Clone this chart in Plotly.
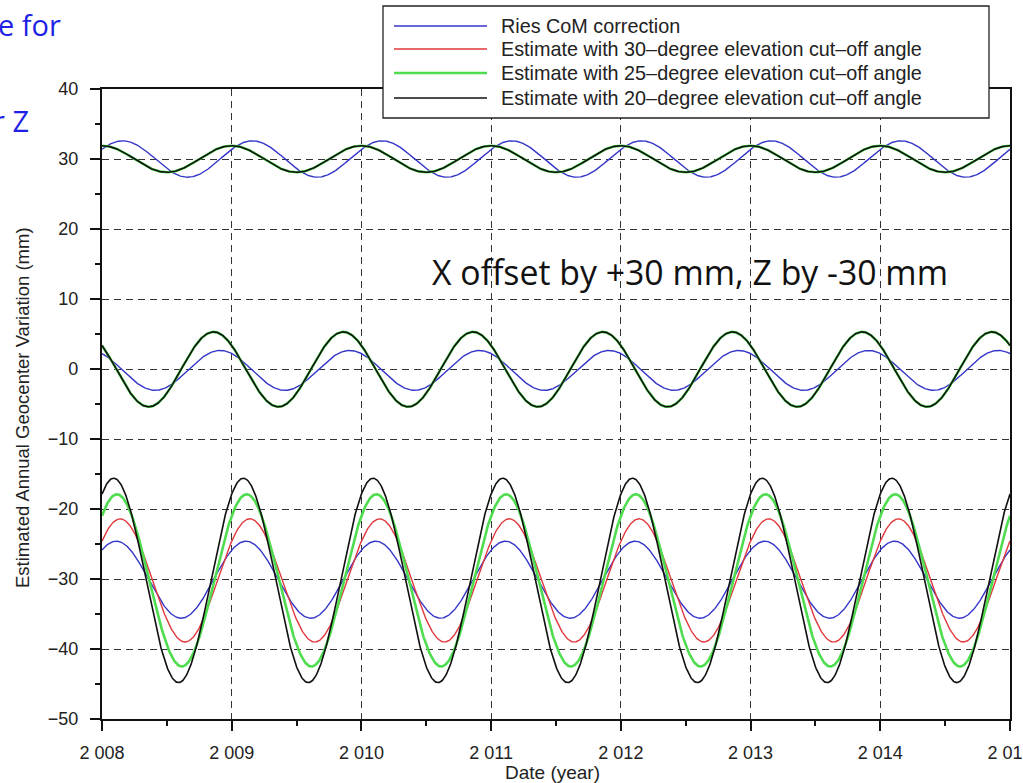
import numpy as np
import plotly.graph_objects as go

# ---- data -------------------------------------------------------------
series_names = [
    "Ries CoM correction",
    "Estimate with 30\u2013degree elevation cut\u2013off angle",
    "Estimate with 25\u2013degree elevation cut\u2013off angle",
    "Estimate with 20\u2013degree elevation cut\u2013off angle",
]
series_colors = ["#3535c8", "#e0383c", "#4fdc4f", "#111111"]
series_widths = [1.4, 1.4, 2.6, 1.6]

# annual signal per component: amplitude (mm), epoch of maximum (fraction of year),
# mean level (mm, X shifted by +30, Z by -30)
x_amp = [2.6, 1.9, 1.9, 1.9]
x_peak = [0.16, 0.0, 0.0, 0.0]
x_mean = [30.0, 30.0, 30.0, 30.0]

y_amp = [2.85, 5.35, 5.35, 5.35]
y_peak = [0.91, 0.86, 0.86, 0.86]
y_mean = [-0.2, -0.05, -0.05, -0.05]

z_amp = [5.5, 8.8, 12.3, 14.6]
z_peak = [0.11, 0.14, 0.115, 0.09]
z_mean = [-30.1, -30.2, -30.2, -30.2]

year_ticks = [2008, 2009, 2010, 2011, 2012, 2013, 2014, 2015]
year_labels = ["2 008", "2 009", "2 010", "2 011", "2 012", "2 013", "2 014", "2 015"]
mm_ticks = [-50, -40, -30, -20, -10, 0, 10, 20, 30, 40]
mm_labels = ["\u221250", "\u221240", "\u221230", "\u221220", "\u221210", "0", "10", "20", "30", "40"]

# ---- figure geometry ----------------------------------------------------
W, H = 1023, 783
L, R, T, B = 102, 13, 89, 64
PW, PH = W - L - R, H - T - B


def px(x):
    return (x - L) / PW


def py(y):
    return (H - B - y) / PH


t = np.linspace(year_ticks[0], year_ticks[-1], 1401)

fig = go.Figure()
for i, name in enumerate(series_names):
    for amp, peak, mean in ((x_amp, x_peak, x_mean), (y_amp, y_peak, y_mean), (z_amp, z_peak, z_mean)):
        fig.add_trace(go.Scatter(
            x=t,
            y=mean[i] + amp[i] * np.cos(2 * np.pi * (t - peak[i])),
            mode="lines",
            line=dict(color=series_colors[i], width=series_widths[i]),
            name=name,
            showlegend=False,
            hoverinfo="skip",
        ))

SANS = "Liberation Sans, Arial, sans-serif"
axis_font = dict(family=SANS, size=18, color="#222")
grid = dict(showgrid=True, gridcolor="#333", gridwidth=1.2, griddash="7px,5px")

fig.update_xaxes(
    range=[year_ticks[0], year_ticks[-1]], tickvals=year_ticks, ticktext=year_labels,
    ticks="outside", ticklen=10, tickwidth=1.5, tickcolor="#111",
    minor=dict(dtick=0.5, tick0=2008, ticks="outside", ticklen=5, tickwidth=1.5, tickcolor="#111", showgrid=False),
    showline=True, linecolor="#111", linewidth=2.2, mirror=True, automargin=False,
    tickfont=axis_font, ticklabelstandoff=6, ticklabeloverflow="allow", zeroline=False, **grid,
)
fig.update_yaxes(
    range=[mm_ticks[0], mm_ticks[-1]], tickvals=mm_ticks, ticktext=mm_labels,
    ticks="outside", ticklen=10, tickwidth=1.5, tickcolor="#111",
    minor=dict(dtick=5, tick0=0, ticks="outside", ticklen=5, tickwidth=1.5, tickcolor="#111", showgrid=False),
    showline=True, linecolor="#111", linewidth=2.2, mirror=True, automargin=False,
    tickfont=axis_font, ticklabelstandoff=8, ticklabeloverflow="allow", zeroline=False, **grid,
)

# ---- legend box drawn over the top of the frame ---------------------------
shapes = [dict(type="rect", xref="paper", yref="paper",
               x0=px(383), x1=px(989), y0=py(118), y1=py(6),
               fillcolor="white", line=dict(color="#222", width=1.3), layer="above")]
annotations = []
row_y = [26, 49, 73, 98]
for i, name in enumerate(series_names):
    shapes.append(dict(type="line", xref="paper", yref="paper",
                       x0=px(394), x1=px(487), y0=py(row_y[i]), y1=py(row_y[i]),
                       line=dict(color=series_colors[i], width=series_widths[i]), layer="above"))
    annotations.append(dict(xref="paper", yref="paper", x=px(499), y=py(row_y[i]),
                            xanchor="left", yanchor="middle", showarrow=False, text=name,
                            font=dict(family=SANS, size=19.8, color="#222")))

# axis titles
annotations.append(dict(xref="paper", yref="paper", x=px(552), y=py(772), xanchor="center", yanchor="middle",
                        showarrow=False, text="Date (year)",
                        font=dict(family=SANS, size=19, color="#222")))
annotations.append(dict(xref="paper", yref="paper", x=px(22), y=py(408), xanchor="center", yanchor="middle",
                        showarrow=False, text="Estimated Annual Geocenter Variation (mm)", textangle=-90,
                        font=dict(family=SANS, size=18.5, color="#222")))

# offset note
annotations.append(dict(xref="paper", yref="paper", x=px(430), y=py(272), xanchor="left", yanchor="middle",
                        showarrow=False, text="X offset by +30 mm, Z by -30 mm",
                        font=dict(family="Open Sans, sans-serif", size=33.8, color="#111")))

# slide heading fragments on the left edge
annotations.append(dict(xref="paper", yref="paper", x=px(63), y=py(25), xanchor="right", yanchor="middle",
                        showarrow=False, text="e for",
                        font=dict(family="Open Sans, sans-serif", size=29, color="#1f1fe6")))
annotations.append(dict(xref="paper", yref="paper", x=px(31), y=py(120), xanchor="right", yanchor="middle",
                        showarrow=False, text="r Z",
                        font=dict(family="Open Sans, sans-serif", size=29, color="#1f1fe6")))

fig.update_layout(
    width=W, height=H,
    margin=dict(l=L, r=R, t=T, b=B, autoexpand=False),
    paper_bgcolor="white", plot_bgcolor="white",
    showlegend=False,
    shapes=shapes, annotations=annotations,
)

fig.write_html("out.html")
